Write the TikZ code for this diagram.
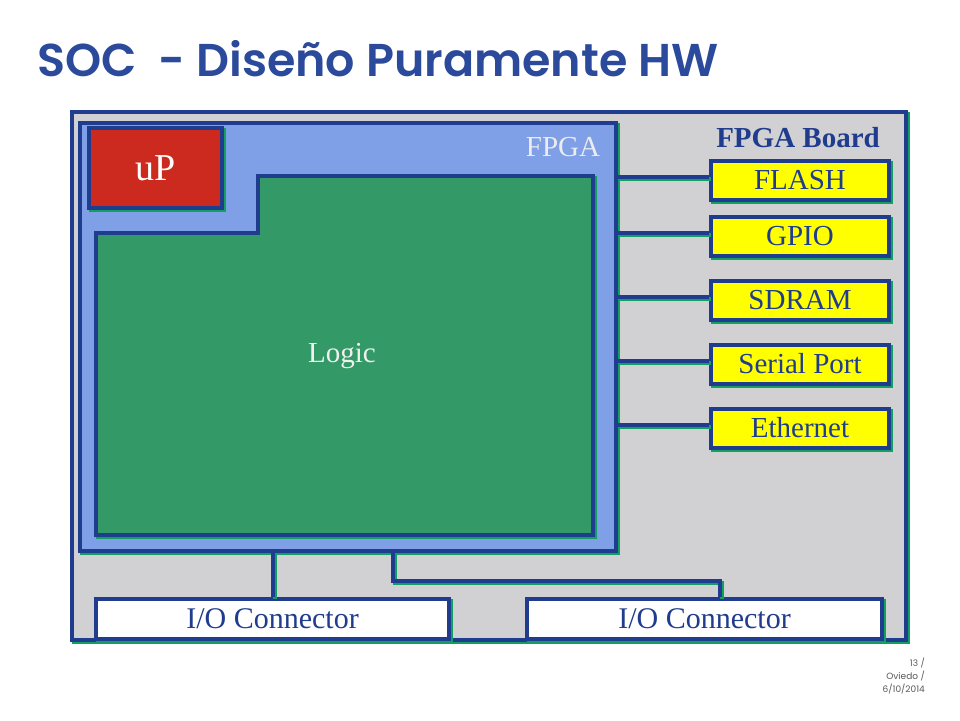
\documentclass[tikz,border=0pt]{standalone}
\usepackage{fontspec}
\setmainfont{Liberation Serif}
\newfontfamily\titlefont{Poppins}[BoldFont={* SemiBold}]
\usetikzlibrary{positioning,calc}
\definecolor{edgeBlue}{HTML}{1F3C8E}
\definecolor{titleBlue}{HTML}{2B4A9B}
\definecolor{shadowGreen}{HTML}{12A060}
\definecolor{boardGray}{HTML}{D1D0D2}
\definecolor{fpgaBlue}{HTML}{7F9FE6}
\definecolor{logicGreen}{HTML}{339966}
\definecolor{upRed}{HTML}{CC2A1E}
\definecolor{periphYellow}{HTML}{FFFF00}

\begin{document}
\begin{tikzpicture}[
    x=1pt, y=-1pt,
    shadowed/.style={preaction={draw=shadowGreen, line width=4pt,
                     transform canvas={shift={(2pt,-2pt)}}}},
    block/.style={rectangle, draw=edgeBlue, line width=4pt, inner sep=0pt,
                  shadowed},
    wire/.style={draw=edgeBlue, line width=4pt, shadowed},
    periph/.style={block, fill=periphYellow, minimum width=178pt,
                   minimum height=39pt, font=\fontsize{29}{30}\selectfont,
                   text=edgeBlue},
    ioconn/.style={block, fill=white, minimum height=40pt,
                   font=\fontsize{30}{31}\selectfont, text=edgeBlue},
]
    \useasboundingbox[fill=white] (0,0) rectangle (960,720);
    % title
    \node[anchor=base west, inner sep=0pt, text=titleBlue,
          font=\titlefont\bfseries\fontsize{46}{50}\selectfont] (title)
         at (37,76) {SOC\ \ - Diseño Puramente HW};
    % board and FPGA
    \node[block, fill=boardGray, minimum width=834pt, minimum height=528pt]
         (board) at (489,376) {};
    \node[block, fill=fpgaBlue, minimum width=536pt, minimum height=428pt]
         (fpga) at (348,337) {};
    \draw[wire, fill=logicGreen] (96,233) -- (258,233) -- (258,176)
         -- (593,176) -- (593,535) -- (96,535) -- cycle;
    \node[text=white!88!gray, font=\fontsize{29}{30}\selectfont] (logic)
         at (342,356) {Logic};
    \node[block, fill=upRed, minimum width=133pt, minimum height=80pt,
          text=white, font=\fontsize{38}{40}\selectfont] (up)
         at (155.5,168) {uP};
    \node[text=white!85!gray, font=\fontsize{29}{30}\selectfont] (fpgalabel)
         at (563,147) {FPGA};
    \node[text=edgeBlue, font=\bfseries\fontsize{29}{30}\selectfont]
         (boardlabel) at (798,138) {FPGA Board};
    % peripherals
    \node[periph] (flash) at (800,180) {FLASH};
    \node[periph] (gpio) at (800,236) {GPIO};
    \node[periph] (sdram) at (800,300) {SDRAM};
    \node[periph] (serial) at (800,364) {Serial Port};
    \node[periph] (eth) at (800,428) {Ethernet};
    \foreach \p in {flash,gpio,sdram,serial,eth}
        \draw[wire] ([yshift=3pt]\p.west) -- ([yshift=3pt]\p.west -| fpga.east);
    % I/O connectors
    \node[ioconn, minimum width=353pt] (io1) at (272.5,619) {I/O Connector};
    \node[ioconn, minimum width=355pt] (io2) at (704.5,619) {I/O Connector};
    \draw[wire] (io1.north) -- (io1.north |- fpga.south);
    \draw[wire] ([xshift=45pt]fpga.south) |- ([xshift=15.5pt,yshift=16pt]io2.north)
         -- ([xshift=15.5pt]io2.north);
    % footer
    \node[anchor=north east, align=right, text=black!65, inner sep=0pt,
          font=\titlefont\fontsize{9}{13}\selectfont] (footer)
         at (925,658) {13 /\\Oviedo /\\6/10/2014};
\end{tikzpicture}
\end{document}
